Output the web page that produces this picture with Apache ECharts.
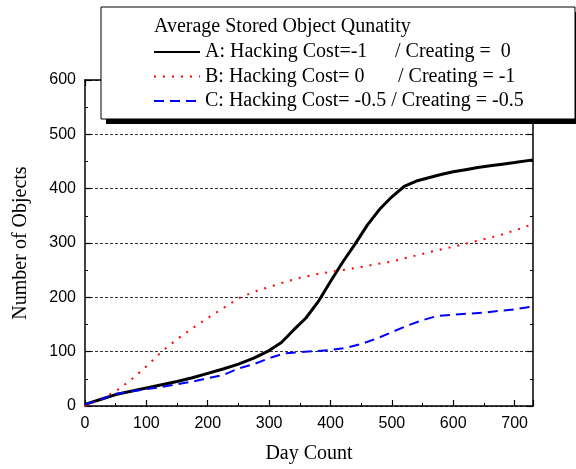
<!DOCTYPE html>
<html>
<head>
<meta charset="utf-8">
<script src="https://cdn.jsdelivr.net/npm/echarts@6/dist/echarts.min.js"></script>
<style>
  html, body { margin: 0; padding: 0; background: #fff; }
  #chart { width: 576px; height: 469px; }
</style>
</head>
<body>
<div id="chart"></div>
<script>
// series A: Hacking Cost=-1 / Creating = 0
const daysA = [0, 25, 50, 75, 100, 125, 150, 175, 200, 225, 250, 275, 300, 320, 340, 360, 380, 400, 420, 440, 460, 480, 500, 520, 540, 560, 580, 600, 620, 640, 660, 680, 700, 730];
const valuesA = [3, 12, 21, 27, 33, 39, 45, 52, 60, 68, 77, 88, 102, 117, 140, 162, 192, 229, 265, 298, 333, 362, 385, 404, 414, 420, 426, 431, 435, 439, 442, 445, 448, 453];

// series B: Hacking Cost=0 / Creating = -1
const daysB = [0, 25, 50, 75, 100, 125, 150, 175, 200, 225, 250, 275, 300, 325, 350, 375, 400, 425, 450, 475, 500, 525, 550, 575, 600, 625, 650, 675, 700, 730];
const valuesB = [0, 12, 27, 48, 73, 100, 123, 143, 162, 180, 198, 210, 219, 228, 236, 242, 247, 251, 256, 261, 266, 273, 280, 287, 293, 300, 307, 314, 323, 335];

// series C: Hacking Cost=-0.5 / Creating = -0.5
const daysC = [0, 25, 50, 75, 100, 125, 150, 175, 200, 225, 250, 275, 300, 325, 350, 375, 400, 425, 450, 475, 500, 525, 550, 575, 600, 650, 700, 730];
const valuesC = [3, 12, 22, 27, 31, 35, 40, 45, 51, 57, 69, 77, 88, 97, 99, 101, 103, 107, 114, 124, 136, 148, 158, 166, 168, 172, 178, 183];

const seriesNames = ["A", "B", "C"];
const legendLabels = {
  A: "{a1|A: Hacking Cost=-1}{b|/ Creating =  0}",
  B: "{a2|B: Hacking Cost= 0}{b|/ Creating = -1}",
  C: "{b|C: Hacking Cost= -0.5 / Creating = -0.5}",
};
const legendTitle = "Average Stored Object Qunatity";

const zip = (xs, ys) => xs.map((x, i) => [x, ys[i]]);

const serif = "Liberation Serif";
const sans = "Liberation Sans";

const chart = echarts.init(document.getElementById("chart"));

const axisCommon = {
  axisLine: { show: true, onZero: false, lineStyle: { color: "#000", width: 1.5 } },
  axisTick: { show: true, inside: true, length: 6, lineStyle: { color: "#000", width: 1.2 } },
  minorTick: { show: true, splitNumber: 2, length: 3, lineStyle: { color: "#000", width: 1 } },
};

const option = {
  animation: false,
  backgroundColor: "#fff",
  grid: { left: 85, right: 43, top: 80, bottom: 59 },
  xAxis: [
    {
      type: "value",
      min: 0,
      max: 730,
      interval: 100,
      name: "Day Count",
      nameLocation: "middle",
      nameGap: 38,
      nameTextStyle: { fontFamily: serif, fontSize: 20, color: "#000" },
      axisLabel: { fontFamily: sans, fontSize: 16, color: "#000", margin: 10, showMaxLabel: false },
      splitLine: { show: false },
      ...axisCommon,
    },
    {
      type: "value",
      position: "top",
      min: 0,
      max: 730,
      interval: 100,
      axisLabel: { show: false },
      splitLine: { show: false },
      ...axisCommon,
    },
  ],
  yAxis: [
    {
      type: "value",
      min: 0,
      max: 600,
      interval: 100,
      name: "Number of Objects",
      nameLocation: "middle",
      nameGap: 54,
      nameTextStyle: { fontFamily: serif, fontSize: 20, color: "#000" },
      axisLabel: { fontFamily: sans, fontSize: 16, color: "#000", margin: 9 },
      splitLine: { show: true, lineStyle: { color: "#333", type: [3, 2], width: 1 } },
      ...axisCommon,
    },
    {
      type: "value",
      position: "right",
      min: 0,
      max: 600,
      interval: 100,
      axisLabel: { show: false },
      splitLine: { show: false },
      ...axisCommon,
    },
  ],
  legend: {
    orient: "vertical",
    left: 153,
    top: 42,
    padding: 0,
    z: 20,
    itemWidth: 46,
    itemHeight: 14,
    itemGap: 4.5,
    data: seriesNames,
    itemStyle: { opacity: 0 },
    formatter: (name) => legendLabels[name],
    textStyle: {
      fontFamily: serif,
      fontSize: 20,
      color: "#000",
      lineHeight: 20,
      rich: {
        a1: { fontFamily: serif, fontSize: 20, color: "#000", width: 190 },
        a2: { fontFamily: serif, fontSize: 20, color: "#000", width: 193 },
        b: { fontFamily: serif, fontSize: 20, color: "#000" },
      },
    },
  },
  graphic: [
    {
      type: "rect",
      z: 10,
      shape: { x: 106, y: 12, width: 474, height: 112 },
      style: { fill: "#000" },
    },
    {
      type: "rect",
      z: 11,
      shape: { x: 101, y: 7, width: 474, height: 112 },
      style: { fill: "#fff", stroke: "#000", lineWidth: 1 },
    },
    {
      type: "text",
      z: 12,
      style: {
        x: 154,
        y: 27,
        text: legendTitle,
        font: "20px " + serif,
        fill: "#000",
        verticalAlign: "middle",
      },
    },
  ],
  series: [
    {
      name: "A",
      type: "line",
      symbol: "none",
      data: zip(daysA, valuesA),
      lineStyle: { color: "#000", width: 3 },
      itemStyle: { color: "#000" },
    },
    {
      name: "B",
      type: "line",
      symbol: "none",
      data: zip(daysB, valuesB),
      lineStyle: { color: "#ff0000", width: 2, type: [2, 7] },
      itemStyle: { color: "#ff0000" },
    },
    {
      name: "C",
      type: "line",
      symbol: "none",
      data: zip(daysC, valuesC),
      lineStyle: { color: "#0000ff", width: 2, type: [10, 6] },
      itemStyle: { color: "#0000ff" },
    },
  ],
};

chart.setOption(option);
</script>
</body>
</html>
